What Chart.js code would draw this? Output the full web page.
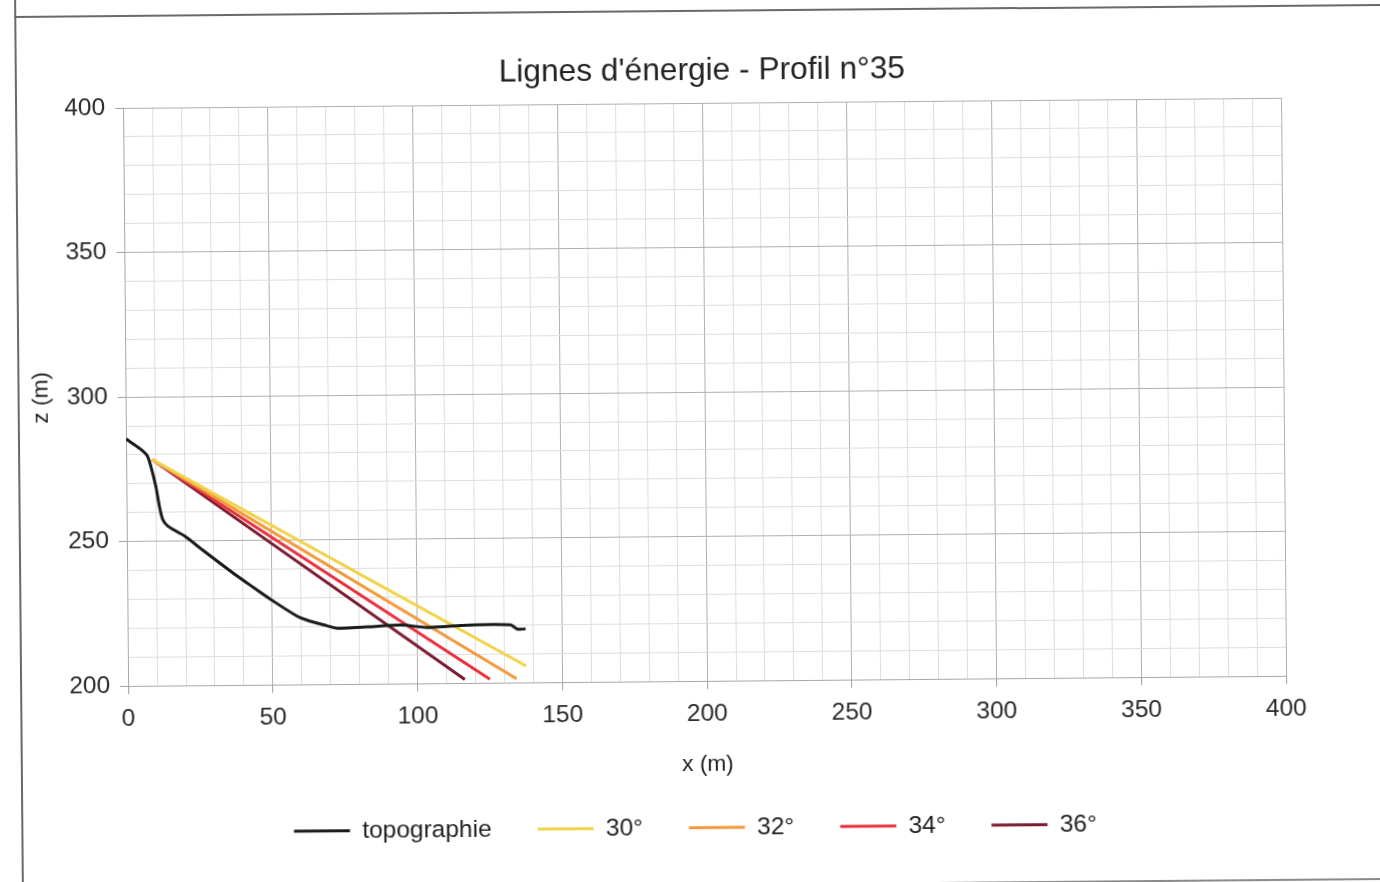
<!DOCTYPE html>
<html lang="fr">
<head>
<meta charset="utf-8">
<title>Lignes d'énergie - Profil n°35</title>
<script src="https://cdn.jsdelivr.net/npm/chart.js@4.4.1/dist/chart.umd.min.js"></script>
<style>
    html, body { margin: 0; padding: 0; background: #fff; overflow: hidden; width: 1380px; height: 882px; }
    /* feuille scannée légèrement de travers */
    #page { position: absolute; left: 0; top: 0; width: 1380px; height: 882px; transform: rotate(-0.5deg); transform-origin: 690px 441px; }
    .frame-v { position: absolute; left: 18px; top: -20px; width: 2px; height: 930px; background: #6a6a6a; }
    .frame-top { position: absolute; left: 18px; top: 10px; width: 1420px; height: 2px; background: #6a6a6a; }
    .frame-bottom { position: absolute; left: 18px; top: 884px; width: 1420px; height: 2px; background: #8a8a8a; }
    #chartBox { position: absolute; left: 0; top: 0; width: 1380px; height: 882px; }
</style>
</head>
<body>
<div id="page">
    <div class="frame-v"></div>
    <div class="frame-top"></div>
    <div class="frame-bottom"></div>
    <div id="chartBox"><canvas id="profil"></canvas></div>
</div>
<script>
// Profil topographique (x en m, altitude z en m)
const topoX = [0, 4.9, 7.2, 8.4, 10.1, 11.3, 12.4, 14.2, 20, 25.8, 36.3, 42, 50.2, 58.4, 61.9, 68.8, 72.3, 82.8, 94.4, 103.7, 117.7, 132.2, 134.5, 137.4];
const topoZ = [285.5, 282, 279.7, 276.2, 269.2, 262.2, 257.6, 255.2, 251.7, 247.1, 239, 234.9, 229.1, 223.8, 222.3, 220.3, 219.4, 219.8, 220.3, 219.4, 220.1, 220.1, 218.6, 218.6];

// Lignes d'énergie : même point de départ, fin selon l'angle
const angles = ['30°', '32°', '34°', '36°'];
const startX = 9;
const startZ = 278.3;
const endX = [137.5, 134.2, 125, 116.3];
const endZ = [205.8, 201.4, 201.3, 201.3];
const lineColors = ['#f0d24a', '#f29a3d', '#e8323e', '#7b1c32'];

// Graduations principales (secondaires tous les 10 m)
const xTicks = [0, 50, 100, 150, 200, 250, 300, 350, 400];
const zTicks = [200, 250, 300, 350, 400];

const font = "'Liberation Sans', Arial, sans-serif";
const isMajor = (v, list) => list.includes(v);

const datasets = [{
    label: 'topographie',
    data: topoX.map((x, i) => ({ x: x, y: topoZ[i] })),
    borderColor: '#1a1a1a',
    backgroundColor: '#1a1a1a',
    borderWidth: 3,
    tension: 0.3
}];
angles.forEach((a, i) => {
    datasets.push({
        label: a,
        data: [{ x: startX, y: startZ }, { x: endX[i], y: endZ[i] }],
        borderColor: lineColors[i],
        backgroundColor: lineColors[i],
        borderWidth: 3
    });
});

const gridColor = list => ctx => isMajor(ctx.tick && ctx.tick.value, list) ? '#b0b0b0' : '#dedede';
const tickColor = list => ctx => isMajor(ctx.tick && ctx.tick.value, list) ? '#a0a0a0' : 'rgba(0,0,0,0)';

// décale la légende un peu vers la gauche
const legendShift = {
    id: 'legendShift',
    afterLayout(chart) {
        if (chart.legend) {
            chart.legend.left -= 13;
            chart.legend.right -= 13;
        }
    }
};

new Chart(document.getElementById('profil'), {
    type: 'scatter',
    data: { datasets },
    plugins: [legendShift],
    options: {
        responsive: true,
        maintainAspectRatio: false,
        animation: false,
        showLine: true,
        elements: { point: { radius: 0, hoverRadius: 0 } },
        layout: { padding: { left: 28, right: 96, top: 40, bottom: 32 } },
        plugins: {
            title: {
                display: true,
                fullSize: false,
                text: "Lignes d'énergie - Profil n°35",
                color: '#222',
                font: { family: font, size: 31.7, weight: 'normal' },
                padding: { top: 12, bottom: 13 }
            },
            legend: {
                position: 'bottom',
                fullSize: false,
                labels: {
                    color: '#222',
                    font: { family: font, size: 24.5 },
                    usePointStyle: true,
                    pointStyle: 'line',
                    pointStyleWidth: 56,
                    boxHeight: 10,
                    padding: 46
                }
            },
            tooltip: { enabled: false }
        },
        scales: {
            x: {
                type: 'linear',
                min: 0,
                max: 400,
                title: {
                    display: true,
                    text: 'x (m)',
                    color: '#222',
                    font: { family: font, size: 22.7 },
                    padding: { top: 12.6, bottom: -9 }
                },
                ticks: {
                    stepSize: 10,
                    autoSkip: false,
                    maxRotation: 0,
                    color: '#2a2a2a',
                    font: { family: font, size: 24.5 },
                    padding: 10,
                    callback: v => isMajor(v, xTicks) ? v : ''
                },
                grid: {
                    color: gridColor(xTicks),
                    tickColor: tickColor(xTicks),
                    tickLength: 8,
                    lineWidth: 1
                },
                border: { color: '#a8a8a8' }
            },
            y: {
                type: 'linear',
                min: 200,
                max: 400,
                title: {
                    display: true,
                    text: 'z (m)',
                    color: '#222',
                    font: { family: font, size: 22.7 },
                    padding: { top: 0, bottom: 2 }
                },
                ticks: {
                    stepSize: 10,
                    autoSkip: false,
                    color: '#2a2a2a',
                    font: { family: font, size: 24.5 },
                    padding: 10,
                    callback: v => isMajor(v, zTicks) ? v : ''
                },
                grid: {
                    color: gridColor(zTicks),
                    tickColor: tickColor(zTicks),
                    tickLength: 8,
                    lineWidth: 1
                },
                border: { color: '#a8a8a8' }
            }
        }
    }
});
</script>
</body>
</html>
